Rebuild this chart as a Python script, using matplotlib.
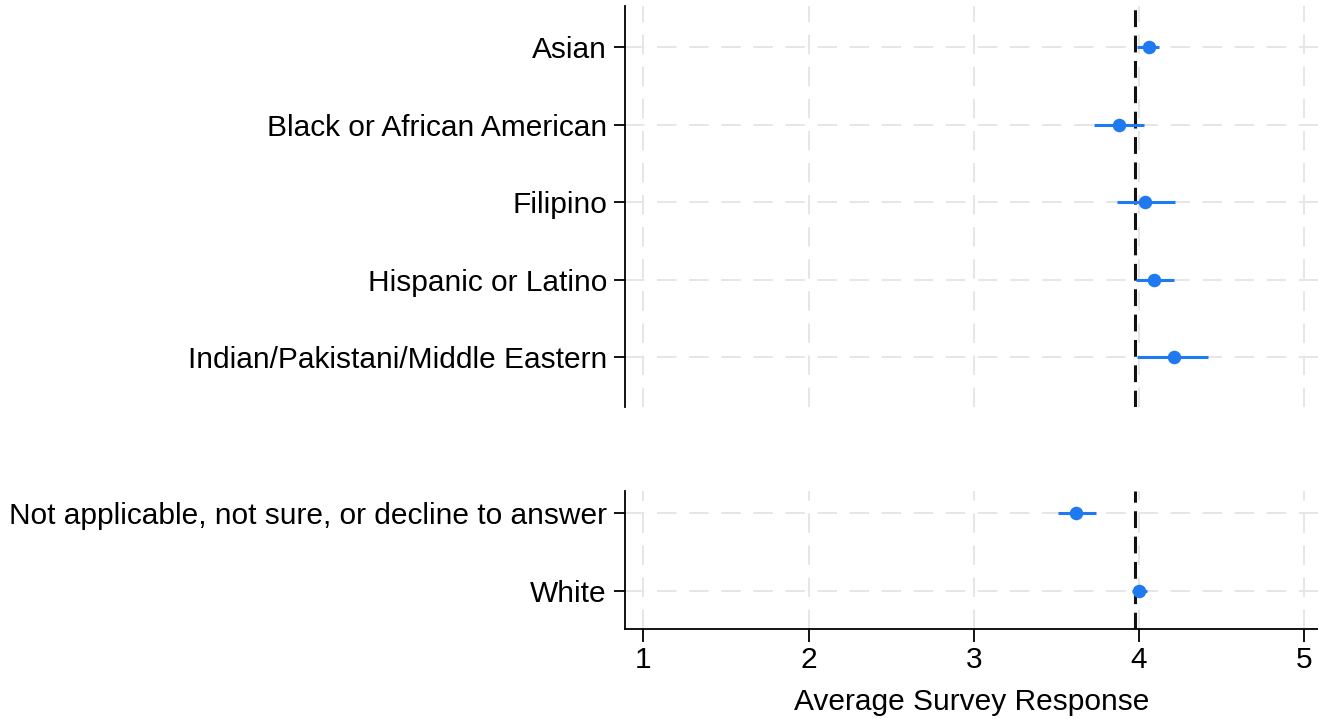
import matplotlib
matplotlib.use("Agg")
import matplotlib.pyplot as plt

plt.rcParams["font.family"] = ["Liberation Sans", "DejaVu Sans"]

# upper block of groups
TOP_GROUPS = [
    "Asian",
    "Black or African American",
    "Filipino",
    "Hispanic or Latino",
    "Indian/Pakistani/Middle Eastern",
]
TOP_MEAN = [4.06, 3.88, 4.04, 4.09, 4.21]
TOP_LOW = [3.99, 3.73, 3.87, 3.98, 3.99]
TOP_HIGH = [4.12, 4.03, 4.22, 4.21, 4.42]

# lower block of groups
BOTTOM_GROUPS = [
    "Not applicable, not sure, or decline to answer",
    "White",
]
BOTTOM_MEAN = [3.62, 4.00]
BOTTOM_LOW = [3.51, 3.96]
BOTTOM_HIGH = [3.74, 4.05]

OVERALL_MEAN = 3.975
X_TICKS = [1, 2, 3, 4, 5]

BLUE = "#1f7af2"
GRID = "#e6e6e6"
FS = 21.5
W, H = 1318, 719

fig = plt.figure(figsize=(W / 100, H / 100), dpi=100)


def px_axes(left, top, right, bottom):
    return fig.add_axes([left / W, 1 - bottom / H, (right - left) / W, (bottom - top) / H])


def draw_block(ax, groups, mean, low, high, ylim, show_x):
    rows = list(range(len(groups)))
    ax.set_xlim(0.888, 5.085)
    ax.set_ylim(*ylim)
    for x in X_TICKS:
        ax.axvline(x, color=GRID, lw=1.4, ls=(0, (10, 6.5)), zorder=0)
    for r in rows:
        ax.axhline(r, color=GRID, lw=1.4, ls=(0, (10, 6.5)), zorder=0)
    ax.axvline(OVERALL_MEAN, color="#111111", lw=2.2, ls=(0, (5.5, 2.8)), zorder=1)
    ax.hlines(rows, low, high, color=BLUE, lw=2.2, zorder=2)
    ax.scatter(mean, rows, s=95, color=BLUE, zorder=3, linewidths=0)

    ax.set_yticks(rows)
    ax.set_yticklabels(groups, fontsize=FS)
    ax.tick_params(axis="y", length=8, width=1.3, pad=5)
    for s in ["top", "right"]:
        ax.spines[s].set_visible(False)
    ax.spines["left"].set_linewidth(1.3)
    if show_x:
        ax.set_xticks(X_TICKS)
        ax.set_xticklabels([str(x) for x in X_TICKS], fontsize=FS)
        ax.tick_params(axis="x", length=9, width=1.3, pad=3)
        ax.spines["bottom"].set_linewidth(1.3)
        ax.set_xlabel("Average Survey Response", fontsize=FS, labelpad=10)
    else:
        ax.set_xticks([])
        ax.spines["bottom"].set_visible(False)


ax_top = px_axes(625, 6, W, 407)
draw_block(ax_top, TOP_GROUPS, TOP_MEAN, TOP_LOW, TOP_HIGH, (4.645, -0.529), False)

ax_bot = px_axes(625, 491, W, 629)
draw_block(ax_bot, BOTTOM_GROUPS, BOTTOM_MEAN, BOTTOM_LOW, BOTTOM_HIGH, (1.493, -0.282), True)

fig.savefig("out.png", dpi=100)
